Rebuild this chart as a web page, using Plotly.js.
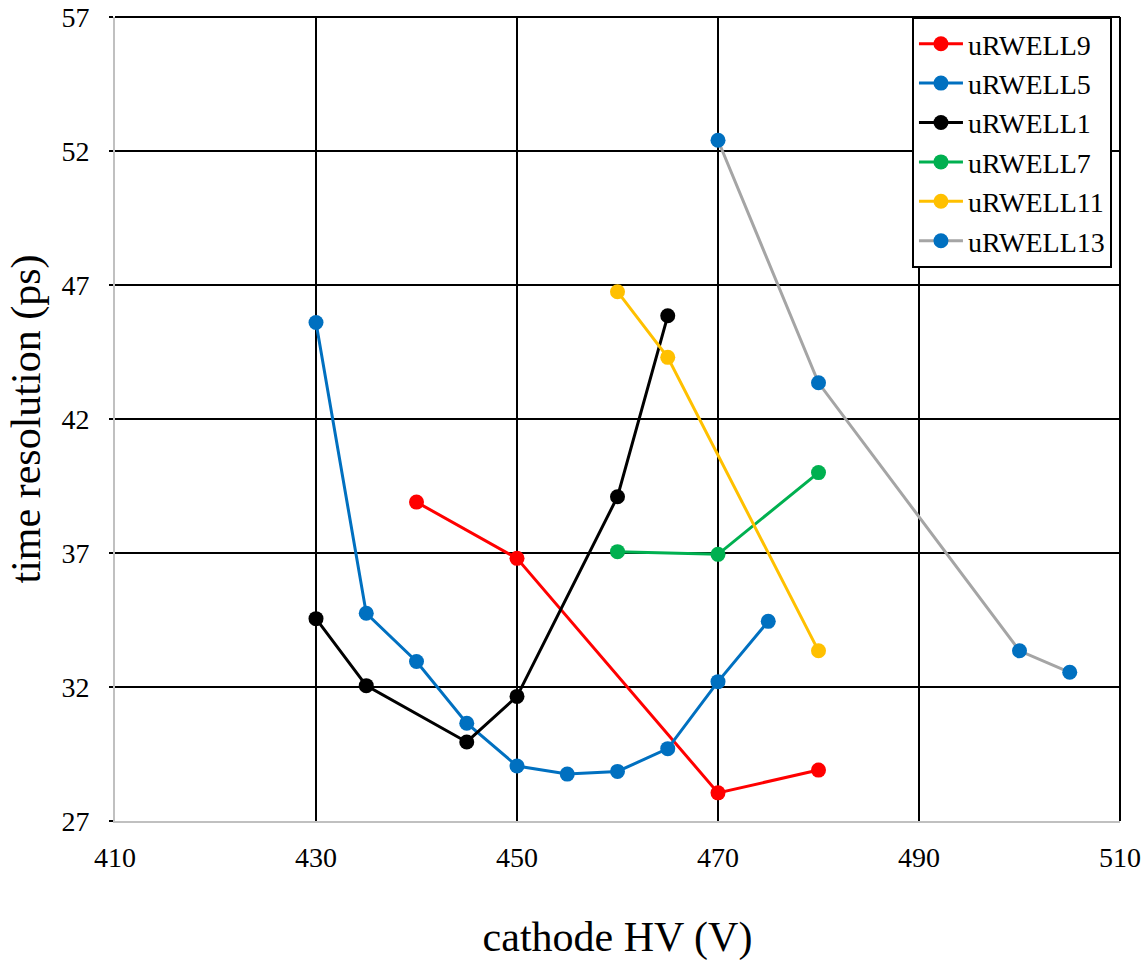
<!DOCTYPE html>
<html>
<head>
<meta charset="utf-8">
<script src="https://cdn.plot.ly/plotly-3.0.1.min.js"></script>
<style>html,body{margin:0;padding:0;background:#fff;}#chart{width:1148px;height:967px;}</style>
</head>
<body>
<div id="chart"></div>
<script>
// Data
const seriesNames = ["uRWELL9", "uRWELL5", "uRWELL1", "uRWELL7", "uRWELL11", "uRWELL13"];

const hv9 = [440, 450, 470, 480];
const res9 = [38.9, 36.8, 28.05, 28.9];

const hv5 = [430, 435, 440, 445, 450, 455, 460, 465, 470, 475];
const res5 = [45.6, 34.75, 32.95, 30.65, 29.05, 28.75, 28.85, 29.7, 32.2, 34.45];

const hv1 = [430, 435, 445, 450, 460, 465];
const res1 = [34.55, 32.05, 29.95, 31.65, 39.1, 45.85];

const hv7 = [460, 470, 480];
const res7 = [37.05, 36.95, 40.0];

const hv11 = [460, 465, 480];
const res11 = [46.75, 44.3, 33.35];

const hv13 = [470, 480, 500, 505];
const res13 = [52.4, 43.35, 33.35, 32.55];

const xTicks = [410, 430, 450, 470, 490, 510];
const yTicks = [27, 32, 37, 42, 47, 52, 57];

const lineColors = ["#ff0000", "#0070c0", "#000000", "#00b050", "#ffc000", "#a5a5a5"];
const markerColors = ["#ff0000", "#0070c0", "#000000", "#00b050", "#ffc000", "#0070c0"];

const xs = [hv9, hv5, hv1, hv7, hv11, hv13];
const ys = [res9, res5, res1, res7, res11, res13];

const traces = seriesNames.map((name, i) => ({
  type: "scatter",
  mode: "lines+markers",
  name: name,
  x: xs[i],
  y: ys[i],
  line: {color: lineColors[i], width: 3},
  marker: {color: markerColors[i], size: 15}
}));

const serif = "Liberation Serif, Times New Roman, serif";

const layout = {
  width: 1148,
  height: 967,
  margin: {l: 115, r: 28, t: 17, b: 146},
  paper_bgcolor: "#ffffff",
  plot_bgcolor: "#ffffff",
  font: {family: serif, color: "#000000", size: 28},
  showlegend: true,
  legend: {
    x: 0.992, xanchor: "right", y: 1, yanchor: "top",
    bgcolor: "#ffffff", bordercolor: "#000000", borderwidth: 2,
    itemwidth: 44,
    font: {family: serif, size: 28, color: "#000000"}
  },
  shapes: [
    {type: "line", xref: "paper", yref: "paper", x0: 0, x1: 1, y0: 1, y1: 1, line: {color: "#000000", width: 2}, layer: "below"},
    {type: "line", xref: "paper", yref: "paper", x0: 1, x1: 1, y0: 0, y1: 1, line: {color: "#000000", width: 2}, layer: "below"}
  ],
  xaxis: {
    range: [410, 510],
    tickvals: xTicks,
    ticktext: xTicks.map(String),
    showgrid: true, gridcolor: "#000000", gridwidth: 2,
    zeroline: false,
    showline: true, linecolor: "#c0c0c0", linewidth: 2,
    ticks: "", ticklabelstandoff: 10,
    ticklabeloverflow: "allow",
    tickfont: {family: serif, size: 28, color: "#000000"},
    title: {text: "cathode HV (V)", font: {family: serif, size: 42, color: "#000000"}, standoff: 50}
  },
  yaxis: {
    range: [27, 57],
    tickvals: yTicks,
    ticktext: yTicks.map(String),
    showgrid: true, gridcolor: "#000000", gridwidth: 2,
    zeroline: false,
    showline: true, linecolor: "#c0c0c0", linewidth: 2,
    ticks: "outside", ticklen: 4, tickcolor: "#000000", tickwidth: 2,
    ticklabelstandoff: 14,
    ticklabeloverflow: "allow",
    tickfont: {family: serif, size: 28, color: "#000000"},
    title: {text: "time resolution (ps)", font: {family: serif, size: 42, color: "#000000"}, standoff: 8}
  }
};

Plotly.newPlot("chart", traces, layout, {displayModeBar: false, staticPlot: true});
</script>
</body>
</html>
